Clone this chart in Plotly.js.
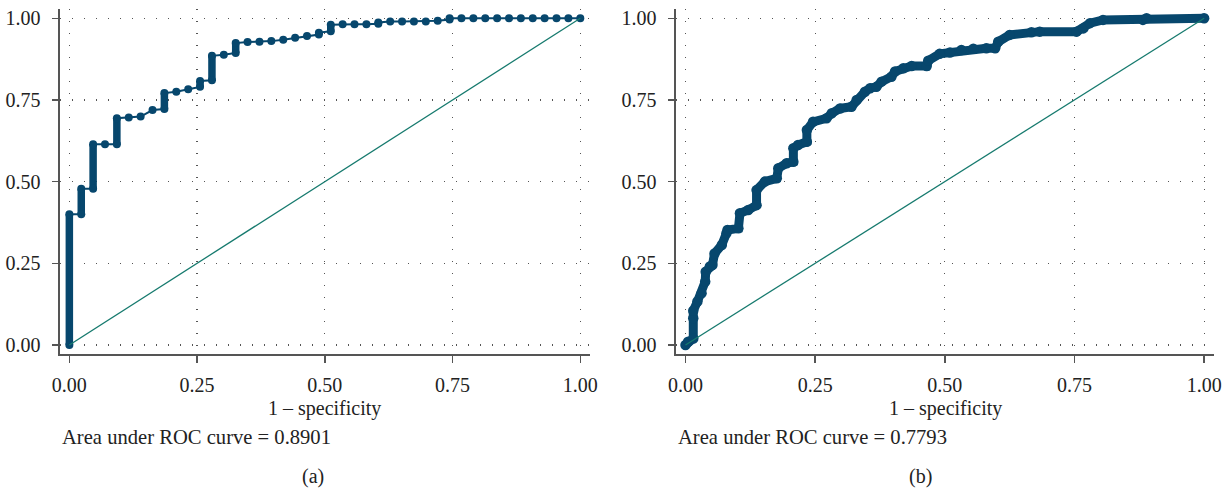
<!DOCTYPE html>
<html>
<head>
<meta charset="utf-8">
<script src="https://cdn.plot.ly/plotly-3.0.1.min.js"></script>
<style>html,body{margin:0;padding:0;background:#fff}#chart{width:1229px;height:488px}</style>
</head>
<body>
<div id="chart"></div>
<script>
// ---- data ----
const tickVals = [0, 0.25, 0.5, 0.75, 1];
const tickText = ["0.00", "0.25", "0.50", "0.75", "1.00"];
const xTitle = "1 – specificity";
const aucA = "Area under ROC curve = 0.8901";
const aucB = "Area under ROC curve = 0.7793";
const panelLabels = ["(a)", "(b)"];

// panel (a) ROC points
const rocA_fpr = [0,0,0.0233,0.0233,0.0465,0.0465,0.0698,0.0930,0.0930,0.1163,0.1395,0.1628,0.1860,0.1860,
  0.2093,0.2326,0.2558,0.2558,0.2791,0.2791,0.3023,0.3256,0.3256,0.3488,0.3721,0.3953,0.4186,0.4419,0.4651,
  0.4884,0.4884,0.5116,0.5116,0.5349,0.5581,0.5814,0.6047,0.6047,0.6279,0.6512,0.6744,0.6977,0.7209,0.7442,
  0.7442,0.7674,0.7907,0.8140,0.8372,0.8605,0.8837,0.9070,0.9302,0.9535,0.9767,1.0];
const rocA_tpr = [0,0.40,0.40,0.478,0.478,0.614,0.614,0.614,0.694,0.696,0.699,0.719,0.722,0.771,
  0.775,0.783,0.790,0.808,0.810,0.885,0.888,0.894,0.924,0.927,0.928,0.930,0.934,0.940,0.946,
  0.950,0.956,0.960,0.980,0.982,0.982,0.982,0.983,0.987,0.990,0.990,0.990,0.990,0.992,0.996,
  1,1,1,1,1,1,1,1,1,1,1,1];

// panel (b) ROC points
const rocB_fpr = [0,0.005,0.015,0.015,0.015,0.023,0.031,0.038,0.039,0.047,0.052,0.056,0.070,0.079,0.081,
  0.102,0.105,0.121,0.137,0.137,0.153,0.176,0.179,0.195,0.208,0.208,0.217,0.234,0.234,0.246,0.272,0.282,
  0.298,0.320,0.330,0.346,0.356,0.368,0.378,0.397,0.404,0.420,0.436,0.465,0.468,0.490,0.510,0.532,0.555,
  0.580,0.597,0.603,0.625,0.667,0.683,0.754,0.767,0.780,0.805,0.882,0.889,1.0];
const rocB_tpr = [0,0.010,0.020,0.082,0.105,0.133,0.158,0.194,0.224,0.240,0.245,0.280,0.306,0.342,0.352,
  0.357,0.403,0.413,0.428,0.474,0.500,0.510,0.541,0.556,0.561,0.602,0.612,0.622,0.658,0.683,0.694,0.709,
  0.724,0.729,0.750,0.775,0.786,0.790,0.806,0.821,0.837,0.847,0.854,0.854,0.870,0.891,0.895,0.903,0.907,
  0.908,0.908,0.928,0.949,0.957,0.959,0.959,0.969,0.985,0.995,0.995,1.0,1.0];

const refX = [0, 1];
const refY = [0, 1];

// ---- styles ----
const rocColor = "#07476d";
const refColor = "#167a6e";
const FONT = "Liberation Serif, Times New Roman, serif";
const W = 1229, H = 488;

// vertical runs (tied fpr) for the stacked-marker look
function columns(xs, ys) {
  const cx = [], cy = [];
  for (let i = 1; i < xs.length; i++) {
    if (xs[i] === xs[i - 1]) { cx.push(xs[i - 1], xs[i], null); cy.push(ys[i - 1], ys[i], null); }
  }
  return {cx, cy};
}
const colA = columns(rocA_fpr, rocA_tpr);

const traces = [
  {x: colA.cx, y: colA.cy, xaxis: "x", yaxis: "y", mode: "lines", line: {color: rocColor, width: 7.5}, hoverinfo: "skip"},
  {x: rocA_fpr, y: rocA_tpr, xaxis: "x", yaxis: "y", mode: "lines+markers",
   line: {color: rocColor, width: 2}, marker: {color: rocColor, size: 8}},
  {x: refX, y: refY, xaxis: "x", yaxis: "y", mode: "lines", line: {color: refColor, width: 1.3}},
  {x: rocB_fpr, y: rocB_tpr, xaxis: "x2", yaxis: "y2", mode: "lines+markers",
   line: {color: rocColor, width: 9}, marker: {color: rocColor, size: 10.5}},
  {x: refX, y: refY, xaxis: "x2", yaxis: "y2", mode: "lines", line: {color: refColor, width: 1.3}}
];

const yDom = [1 - 354.3 / H, 1 - 9.1 / H];
const xRange = [-0.0183, 1.019];
const yRange = [-0.0285, 1.028];

function xax(dom) {
  return {domain: dom, range: xRange, tickvals: tickVals, ticktext: tickText, ticks: "outside", ticklen: 7,
    tickwidth: 1.5, tickcolor: "#555", showline: true, linecolor: "#555", linewidth: 1.6,
    showgrid: true, gridcolor: "#555", gridwidth: 1.3, griddash: "1px,11px", zeroline: false,
    ticklabelstandoff: 5, tickfont: {family: FONT, size: 20, color: "#222"}, fixedrange: true};
}
function yax(anchor) {
  return {domain: yDom, range: yRange, anchor: anchor, tickvals: tickVals, ticktext: tickText, ticks: "outside",
    ticklen: 6, tickwidth: 1.5, tickcolor: "#555", showline: true, linecolor: "#555", linewidth: 1.6,
    showgrid: true, gridcolor: "#555", gridwidth: 1.3, griddash: "1px,11px", zeroline: false,
    ticklabelstandoff: 8, tickfont: {family: FONT, size: 20, color: "#222"}, fixedrange: true};
}

const ann = (txt, px, py, anchor, size) => ({text: txt, xref: "paper", yref: "paper", x: px / W, y: 1 - py / H,
  xanchor: anchor, yanchor: "middle", showarrow: false, font: {family: FONT, size: size, color: "#222"}});

const layout = {
  width: W, height: H, margin: {l: 0, r: 0, t: 0, b: 0},
  paper_bgcolor: "#fff", plot_bgcolor: "#fff", showlegend: false,
  xaxis: Object.assign(xax([60 / W, 590 / W]), {anchor: "y"}),
  yaxis: yax("x"),
  xaxis2: Object.assign(xax([676 / W, 1214 / W]), {anchor: "y2"}),
  yaxis2: yax("x2"),
  annotations: [
    ann(xTitle, 324, 408, "center", 20),
    ann(aucA, 60, 437, "left", 20.6),
    ann(panelLabels[0], 313, 476, "center", 20),
    ann(xTitle, 945, 408, "center", 20),
    ann(aucB, 676, 437, "left", 20.6),
    ann(panelLabels[1], 921, 476, "center", 20)
  ]
};

Plotly.newPlot("chart", traces, layout, {displayModeBar: false, staticPlot: true});
</script>
</body>
</html>
